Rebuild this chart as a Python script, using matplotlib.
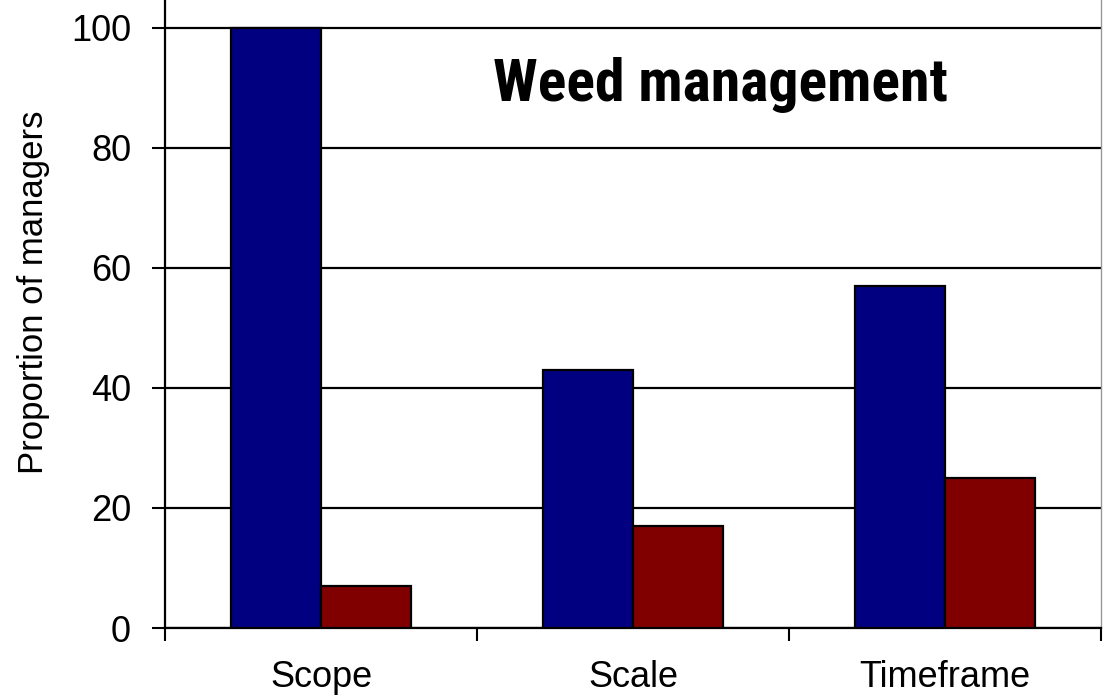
import matplotlib
matplotlib.use("Agg")
import matplotlib.pyplot as plt
import numpy as np

categories = ["Scope", "Scale", "Timeframe"]
series_a = [100, 43, 57]
series_b = [7, 17, 25]
y_ticks = [0, 20, 40, 60, 80, 100]
title_text = "Weed management"
y_label = "Proportion of managers"

plt.rcParams["font.family"] = ["Liberation Sans", "DejaVu Sans"]

fig = plt.figure(figsize=(11.05, 6.98), dpi=100)
ax = fig.add_axes([165 / 1105, 70 / 698, 936 / 1105, 628 / 698])

x = np.arange(len(categories))
w = 0.29
ax.bar(x - w / 2, series_a, width=w, color="#000080", edgecolor="black",
       linewidth=1.6, zorder=3)
ax.bar(x + w / 2, series_b, width=w, color="#800000", edgecolor="black",
       linewidth=1.6, zorder=3)

ax.set_xlim(-0.5, 2.5)
ax.set_ylim(0, 104.6)

# horizontal gridlines
ax.set_yticks(y_ticks)
ax.yaxis.grid(True, color="black", linewidth=1.6, zorder=1)
ax.set_axisbelow(True)

# category boundaries carry the tick marks, centres carry the labels
ax.set_xticks([-0.5, 0.5, 1.5, 2.5])
ax.set_xticklabels([])
ax.set_xticks(x, minor=True)
ax.set_xticklabels(categories, minor=True, fontsize=26)
ax.tick_params(axis="x", which="major", direction="out", length=9, width=1.5)
ax.tick_params(axis="x", which="minor", length=0, pad=23)
ax.tick_params(axis="y", direction="out", length=9.4, width=1.5,
               labelsize=26, pad=15)

for side in ("left", "bottom"):
    ax.spines[side].set_linewidth(1.6)
    ax.spines[side].set_color("black")
ax.spines["top"].set_visible(False)
ax.spines["right"].set_color("#999999")
ax.spines["right"].set_linewidth(1.0)

ax.set_ylabel(y_label, fontsize=25)
ax.yaxis.set_label_coords(-0.123, 0.535)

ax.text(1.28, 90.5, title_text, fontsize=43, fontweight="bold",
        family=["Roboto Condensed", "Liberation Sans", "DejaVu Sans"],
        ha="center", va="center", zorder=4)

fig.savefig("out.png", dpi=100)
